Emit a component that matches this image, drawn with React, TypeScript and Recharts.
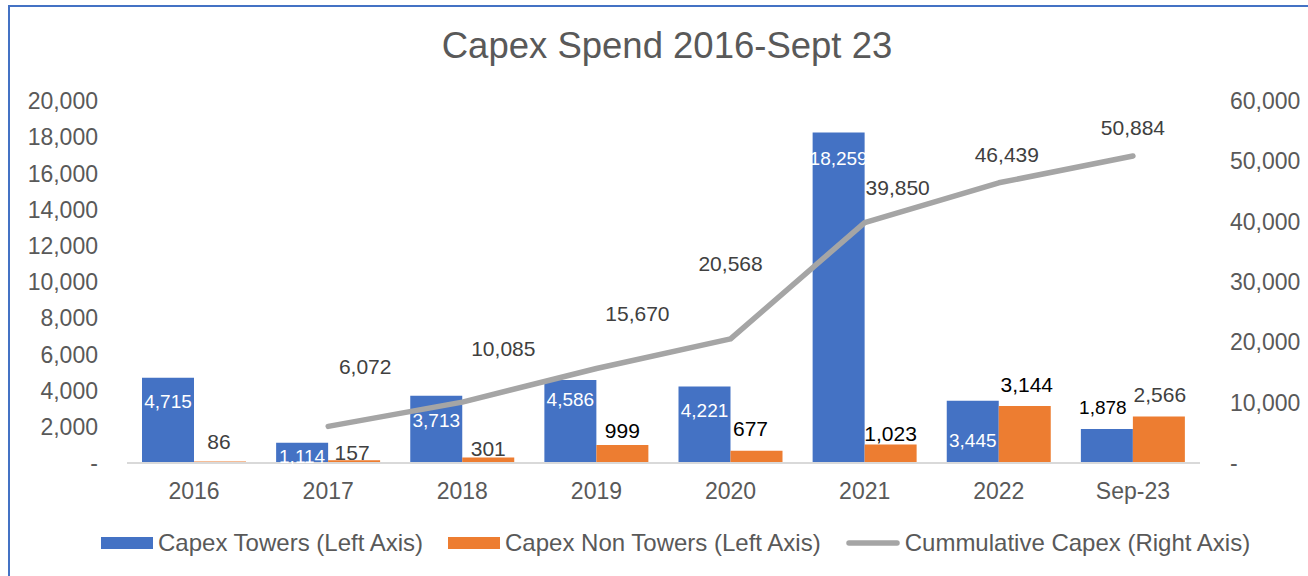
import React from 'react';
import { ComposedChart, Bar, Line, XAxis, YAxis, Legend, LabelList } from 'recharts';

const categories = ['2016', '2017', '2018', '2019', '2020', '2021', '2022', 'Sep-23'];
const capexTowers = [4715, 1114, 3713, 4586, 4221, 18259, 3445, 1878];
const capexNonTowers = [86, 157, 301, 999, 677, 1023, 3144, 2566];
const cumulativeCapex: (number | null)[] = [null, 6072, 10085, 15670, 20568, 39850, 46439, 50884];

const leftTicks = [0, 2000, 4000, 6000, 8000, 10000, 12000, 14000, 16000, 18000, 20000];
const rightTicks = [0, 10000, 20000, 30000, 40000, 50000, 60000];

// hand-placed label nudges (the source chart has dragged labels)
const towerLabelDy = [24, 13, 24, 19, 24, 26, 40, -22];
const towerLabelDx = [0, 0, 0, 0, 0, 0, 0, -4];
const nonTowerLabelDy = [-20, -8, -9, -14, -22, -11, -22, -22];
const nonTowerLabelDx = [-1, -2, 0, 0, -6, 0, 2, 1];
const nonTowerLabelColor = ['#404040', '#404040', '#404040', '#000', '#000', '#000', '#000', '#404040'];
const lineLabelNudge = [[0, 0], [37, -60], [41, -54], [41, -55], [0, -75], [33, -35], [8, -28], [0, -29]];

const data = categories.map((c, i) => ({
  category: c,
  towers: capexTowers[i],
  nonTowers: capexNonTowers[i],
  cumulative: cumulativeCapex[i],
}));

const FONT = '"Liberation Sans", Arial, sans-serif';
const BLUE = '#4472C4';
const ORANGE = '#ED7D31';
const GREY = '#A5A5A5';

const fmt = (v: number) => (v === 0 ? '-' : v.toLocaleString('en-US'));

const TowerLabel = (props: any) => {
  const { x, y, width, value, index } = props;
  const dy = towerLabelDy[index];
  return (
    <text
      x={x + width / 2 + towerLabelDx[index]}
      y={y + dy}
      dy="0.36em"
      textAnchor="middle"
      fontSize={19}
      fontFamily={FONT}
      fill={dy < 0 ? '#000' : '#fff'}
    >
      {fmt(value)}
    </text>
  );
};

const NonTowerLabel = (props: any) => {
  const { x, y, width, value, index } = props;
  return (
    <text
      x={x + width / 2 + nonTowerLabelDx[index]}
      y={y + nonTowerLabelDy[index]}
      dy="0.36em"
      textAnchor="middle"
      fontSize={21}
      fontFamily={FONT}
      fill={nonTowerLabelColor[index]}
    >
      {fmt(value)}
    </text>
  );
};

const CumulativeLabel = (props: any) => {
  const { x, y, value, index } = props;
  if (value == null) return null;
  const [dx, dy] = lineLabelNudge[index];
  return (
    <text x={x + dx} y={y + dy} dy="0.36em" textAnchor="middle" fontSize={21} fontFamily={FONT} fill="#404040">
      {fmt(value)}
    </text>
  );
};

const legendItems = [
  { label: 'Capex Towers (Left Axis)', color: BLUE, type: 'rect' },
  { label: 'Capex Non Towers (Left Axis)', color: ORANGE, type: 'rect' },
  { label: 'Cummulative Capex (Right Axis)', color: GREY, type: 'line' },
];

const renderLegend = () => (
  <div style={{ display: 'flex', alignItems: 'center', height: 26, fontFamily: FONT, fontSize: 24, color: '#595959', whiteSpace: 'nowrap' }}>
    {legendItems.map((it) => (
      <div key={it.label} style={{ display: 'flex', alignItems: 'center', marginRight: 25 }}>
        {it.type === 'rect' ? (
          <div style={{ width: 52, height: 12, background: it.color, marginRight: 5 }} />
        ) : (
          <svg width={54} height={8} style={{ marginRight: 5 }}>
            <line x1={3} y1={4} x2={51} y2={4} stroke={it.color} strokeWidth={5.5} strokeLinecap="round" />
          </svg>
        )}
        <span style={{ lineHeight: '26px' }}>{it.label}</span>
      </div>
    ))}
  </div>
);

export default function App() {
  return (
    <div style={{ position: 'absolute', left: 0, top: 0, width: 1308, height: 576, overflow: 'hidden', background: '#fff' }}>
      <div
        style={{
          position: 'absolute',
          left: 8,
          top: 5,
          width: 1400,
          height: 700,
          borderLeft: `2.5px solid ${BLUE}`,
          borderTop: `2.5px solid ${BLUE}`,
          boxSizing: 'border-box',
        }}
      />
      <div
        style={{
          position: 'absolute',
          left: 367,
          width: 600,
          top: 28,
          textAlign: 'center',
          fontFamily: FONT,
          fontSize: 36.5,
          lineHeight: 1,
          color: '#595959',
        }}
      >
        Capex Spend 2016-Sept 23
      </div>
      <div style={{ position: 'absolute', left: 10, top: 7 }}>
        <ComposedChart
          width={1298}
          height={569}
          data={data}
          margin={{ top: 94, right: 8, left: 0, bottom: 47 }}
          barCategoryGap={15}
          barGap={0}
        >
          <XAxis
            dataKey="category"
            height={40}
            tickLine={false}
            tickMargin={14}
            axisLine={{ stroke: '#D9D9D9', strokeWidth: 2 }}
            tick={{ fill: '#595959', fontSize: 23, fontFamily: FONT }}
          />
          <YAxis
            yAxisId="left"
            domain={[0, 20000]}
            ticks={leftTicks}
            width={117}
            axisLine={false}
            tickLine={false}
            tickMargin={23}
            tickFormatter={fmt}
            tick={{ fill: '#595959', fontSize: 23, fontFamily: FONT }}
          />
          <YAxis
            yAxisId="right"
            orientation="right"
            domain={[0, 60000]}
            ticks={rightTicks}
            width={100}
            axisLine={false}
            tickLine={false}
            tickMargin={24}
            tickFormatter={fmt}
            tick={{ fill: '#595959', fontSize: 23, fontFamily: FONT }}
          />
          <Legend
            verticalAlign="bottom"
            content={renderLegend}
            wrapperStyle={{ left: 91, top: 523, bottom: 'auto', width: 'auto', height: 26 }}
          />
          <Bar yAxisId="left" dataKey="towers" name="Capex Towers (Left Axis)" fill={BLUE} isAnimationActive={false}>
            <LabelList dataKey="towers" content={TowerLabel} />
          </Bar>
          <Bar yAxisId="left" dataKey="nonTowers" name="Capex Non Towers (Left Axis)" fill={ORANGE} isAnimationActive={false}>
            <LabelList dataKey="nonTowers" content={NonTowerLabel} />
          </Bar>
          <Line
            yAxisId="right"
            type="linear"
            dataKey="cumulative"
            name="Cummulative Capex (Right Axis)"
            stroke={GREY}
            strokeWidth={5.5}
            strokeLinecap="round"
            strokeLinejoin="round"
            dot={false}
            activeDot={false}
            isAnimationActive={false}
          >
            <LabelList dataKey="cumulative" content={CumulativeLabel} />
          </Line>
        </ComposedChart>
      </div>
    </div>
  );
}
